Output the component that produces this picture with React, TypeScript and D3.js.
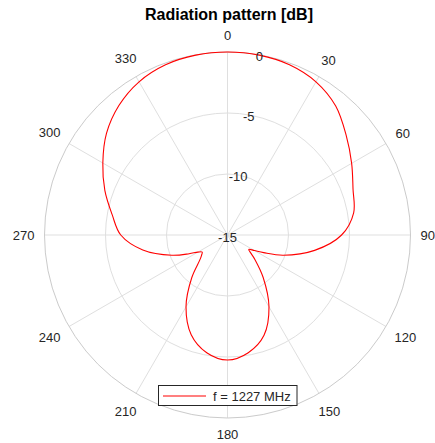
import React from 'react'
import * as d3 from 'd3'

// pattern (degrees clockwise from top, gain in dB)
const angles = [
  0, 10, 20, 30, 40, 50, 60, 70, 80, 90, 100, 110, 116, 120, 124, 128, 132, 140, 150, 160, 170,
  180, 190, 200, 210, 220, 228, 232, 236, 240, 244, 250, 260, 270, 280, 290, 300, 310, 320, 330,
  340, 350,
]
const gainDb = [
  0, -0.03, -0.15, -0.5, -1.2, -2.3, -3.25, -4.05, -4.5, -5.65, -7.75, -10.15, -11.7, -12.45,
  -12.9, -12.55, -11.95, -10.45, -8.2, -6.25, -5.2, -4.75, -5.2, -6.3, -8.2, -10.45, -11.95, -12.3,
  -12.5, -12.2, -11.5, -10.15, -7.95, -6.25, -5.4, -4.3, -3.2, -2.05, -1.15, -0.5, -0.15, -0.03,
]
const thetaTicks = [0, 30, 60, 90, 120, 150, 180, 210, 240, 270, 300, 330]
const rTicks = [-15, -10, -5, 0]
const title = 'Radiation pattern [dB]'
const legendLabel = 'f = 1227 MHz'

const width = 435
const height = 443
const cx = 227.5
const cy = 235
const outer = 183
const font = '"Liberation Sans", Arial, Helvetica, sans-serif'
const textColor = '#262626'

const App: React.FunctionComponent = () => {
  const r = d3.scaleLinear().domain([-15, 0]).range([0, outer]).clamp(true)
  const rad = (deg: number) => (deg * Math.PI) / 180

  const points: [number, number][] = angles.map((a, i) => [rad(a), r(gainDb[i])])
  const line = d3
    .lineRadial()
    .angle(d => d[0])
    .radius(d => d[1])
    .curve(d3.curveCatmullRomClosed.alpha(0.5))

  const fontSize = 13
  const labelBase = 193

  return (
    <svg
      width={width}
      height={height}
      style={{ position: 'absolute', left: 0, top: 0, background: '#fff' }}
      fontFamily={font}
    >
      <rect width={width} height={height} fill="#fff" />
      <text
        x={229}
        y={20}
        textAnchor="middle"
        fontSize={16}
        fontWeight="bold"
        fill="#000"
      >
        {title}
      </text>

      <g transform={`translate(${cx},${cy})`}>
        {thetaTicks.map(t => (
          <line
            key={`s${t}`}
            x1={0}
            y1={0}
            x2={outer * Math.sin(rad(t))}
            y2={-outer * Math.cos(rad(t))}
            stroke="#dfdfdf"
            strokeWidth={1}
          />
        ))}
        {rTicks.slice(1, -1).map(v => (
          <circle key={`c${v}`} r={r(v)} fill="none" stroke="#dfdfdf" strokeWidth={1} />
        ))}
        <circle r={outer} fill="none" stroke="#cbcbcb" strokeWidth={1} />

        <path d={line(points) ?? ''} fill="none" stroke="#ff0000" strokeWidth={1.1} />

        {thetaTicks.map(t => {
          const s = Math.sin(rad(t))
          const c = Math.cos(rad(t))
          const w = String(t).length * 7.2
          const h = 12.4
          const d = labelBase + (Math.abs(s) * w) / 2 + (Math.abs(c) * h) / 2
          return (
            <text
              key={`t${t}`}
              x={d * s}
              y={-d * c}
              textAnchor="middle"
              dominantBaseline="central"
              fontSize={fontSize}
              fill={textColor}
            >
              {t}
            </text>
          )
        })}

        {rTicks.map(v => (
          <text
            key={`r${v}`}
            x={r(v) * Math.sin(rad(10))}
            y={-r(v) * Math.cos(rad(10)) + 2}
            textAnchor="middle"
            dominantBaseline="central"
            fontSize={fontSize}
            fill={textColor}
          >
            {v}
          </text>
        ))}
      </g>

      <g>
        <rect x={158.5} y={385.5} width={138.5} height={20} fill="#fff" stroke={textColor} strokeWidth={1} />
        <line x1={163} x2={206} y1={396} y2={396} stroke="#ff0000" strokeWidth={1.1} />
        <text x={213} y={396} dominantBaseline="central" fontSize={fontSize} fill={textColor}>
          {legendLabel}
        </text>
      </g>
    </svg>
  )
}

export default App
